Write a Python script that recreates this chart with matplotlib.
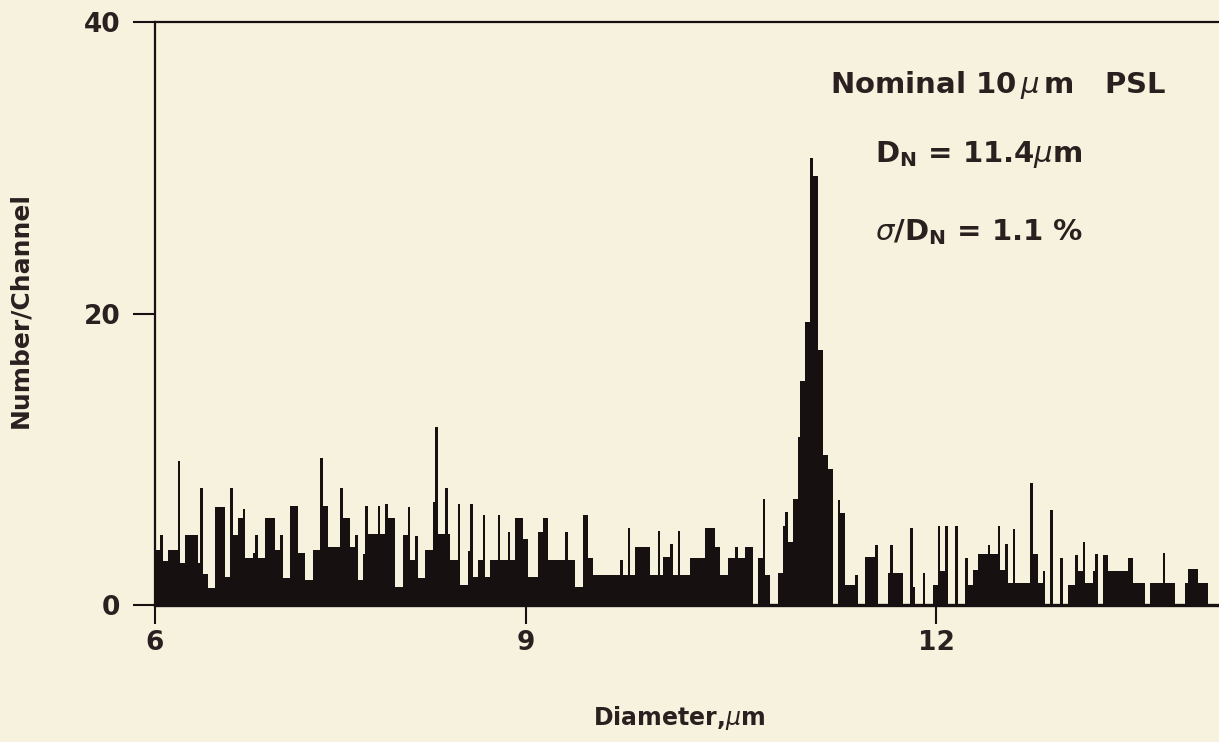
import numpy as np
import matplotlib
matplotlib.use("Agg")
import matplotlib.pyplot as plt


# histogram: each segment starts at a channel and holds a count
seg_start = [
    0, 2, 3, 5, 9, 10, 12, 17, 18, 19, 21, 24, 28, 30, 31, 33, 35, 36, 39, 40,
    41, 44, 48, 50, 51, 54, 57, 60, 63, 66, 67, 69, 74, 75, 78, 80, 81, 83, 84, 85,
    89, 90, 92, 93, 96, 99, 101, 102, 104, 105, 108, 111, 112, 113, 116, 117, 118, 121, 122, 125,
    126, 127, 129, 131, 132, 134, 137, 138, 141, 142, 144, 147, 149, 153, 155, 157, 164, 165, 168, 171,
    173, 175, 186, 187, 189, 190, 192, 198, 201, 202, 203, 206, 207, 209, 210, 214, 220, 224, 226, 229,
    232, 233, 236, 239, 241, 243, 244, 246, 249, 251, 252, 253, 255, 257, 258, 260, 262, 263, 265, 267,
    269, 271, 273, 274, 276, 280, 281, 284, 288, 289, 293, 294, 295, 299, 302, 303, 304, 307, 308, 311,
    313, 314, 316, 317, 320, 321, 324, 325, 327, 329, 333, 334, 337, 338, 340, 341, 343, 344, 350, 351,
    353, 355, 356, 358, 359, 362, 363, 365, 368, 369, 371, 372, 375, 376, 377, 379, 381, 389, 391, 396,
    398, 403, 404, 408, 412, 413, 417, 421,
]
seg_count = [
    3.8, 4.8, 3.0, 3.8, 9.9, 2.9, 4.8, 2.9, 8.0, 2.1, 1.2, 6.7, 1.9, 8.0, 4.8, 6.0, 6.6, 3.2, 3.6, 4.8,
    3.2, 6.0, 3.8, 4.8, 1.85, 6.8, 3.6, 1.7, 3.8, 10.1, 6.8, 4.0, 8.0, 6.0, 4.0, 4.8, 1.7, 3.5, 6.8, 4.9,
    6.8, 4.9, 6.9, 6.0, 1.25, 4.8, 6.7, 3.1, 4.7, 1.85, 3.8, 7.1, 12.2, 4.9, 8.0, 4.9, 3.1, 6.9, 1.4, 3.7,
    6.9, 1.9, 3.1, 6.2, 1.9, 3.1, 6.2, 3.1, 5.0, 3.1, 6.0, 4.5, 1.9, 5.0, 6.0, 3.1, 5.0, 3.1, 1.25, 6.2,
    3.2, 2.06, 3.1, 2.06, 5.3, 2.06, 4.0, 2.06, 5.1, 2.06, 3.3, 4.2, 2.06, 5.1, 2.06, 3.2, 5.3, 4.0, 2.06, 3.2,
    4.0, 3.2, 4.0, 0, 3.2, 7.3, 2.06, 0, 2.2, 5.4, 6.4, 4.3, 7.3, 11.5, 15.4, 19.4, 30.7, 29.4, 17.5, 10.3,
    9.3, 0, 7.2, 6.3, 1.4, 2.06, 0, 3.3, 4.1, 0, 2.2, 4.1, 2.2, 0, 5.3, 1.25, 0, 2.2, 0, 1.4,
    5.4, 2.3, 5.4, 0, 5.4, 0, 3.2, 1.4, 2.4, 3.5, 4.1, 3.5, 5.4, 2.4, 4.2, 1.5, 5.2, 1.5, 8.4, 3.5,
    1.5, 2.3, 0, 6.5, 0, 3.2, 0, 1.4, 3.4, 2.3, 4.3, 1.5, 2.3, 3.5, 0, 3.4, 2.3, 3.2, 1.5, 0,
    1.5, 3.6, 1.5, 0, 1.5, 2.5, 1.5, 0,
]
last_channel = 425

# diameter calibration of the channel axis
tick_channels = [0, 148.5, 312.4]
tick_labels = ["6", "9", "12"]

bg = "#f7f2de"
ink = "#161011"
text_col = "#2b2020"

plt.rcParams["font.family"] = ["DejaVu Sans"]
plt.rcParams["mathtext.fontset"] = "dejavusans"

fig = plt.figure(figsize=(12.19, 7.42), dpi=100, facecolor=bg)
ax = fig.add_axes([155 / 1219, 1 - 605 / 742, 1064 / 1219, 583 / 742])
ax.set_facecolor(bg)

edges = np.array(seg_start + [last_channel], dtype=float)
ax.stairs(seg_count, edges, fill=True, color=ink, linewidth=0)

ax.set_xlim(0, 1064 / 2.5)
ax.set_ylim(0, 40)

for side in ["top", "left", "bottom"]:
    ax.spines[side].set_color(ink)
ax.spines["left"].set_linewidth(1.6)
ax.spines["top"].set_linewidth(1.6)
ax.spines["bottom"].set_linewidth(2.4)
ax.spines["right"].set_visible(False)

ax.set_xticks(tick_channels)
ax.set_xticklabels(tick_labels)
ax.set_yticks([0, 20, 40])
ax.set_yticklabels(["0", "20", "40"])
ax.tick_params(axis="x", direction="out", length=14, width=1.5, pad=4,
               labelsize=19, colors=ink, labelcolor=text_col)
ax.tick_params(axis="y", direction="out", length=16, width=1.5, pad=9,
               labelsize=19, colors=ink, labelcolor=text_col)
for lab in ax.get_xticklabels() + ax.get_yticklabels():
    lab.set_fontweight("bold")

ax.set_ylabel("Number/Channel", fontsize=18, fontweight="bold", color=text_col)
ax.yaxis.set_label_coords(-0.115, 0.506)
ax.set_xlabel(r"Diameter,$\mu$m", fontsize=17, fontweight="bold", color=text_col)
ax.xaxis.set_label_coords(0.493, -0.17)

ax.text(0.634, 0.892, r"Nominal 10$\,\mu\,$m   PSL", transform=ax.transAxes,
        fontsize=21, fontweight="bold", color=text_col, va="center")
ax.text(0.677, 0.772, r"D$_{\mathbf{N}}$ = 11.4$\mu$m", transform=ax.transAxes,
        fontsize=21, fontweight="bold", color=text_col, va="center")
ax.text(0.677, 0.640, r"$\sigma$/D$_{\mathbf{N}}$ = 1.1 %", transform=ax.transAxes,
        fontsize=21, fontweight="bold", color=text_col, va="center")

plt.savefig("out.png", dpi=100, facecolor=bg)
plt.close()
